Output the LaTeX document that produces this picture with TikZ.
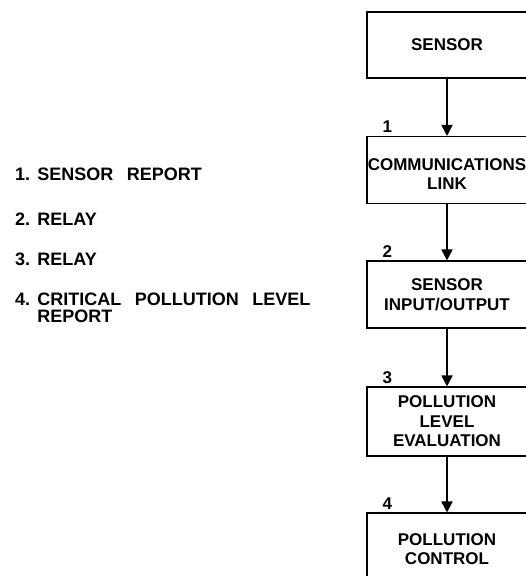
\documentclass[tikz,border=0pt]{standalone}
\usepackage{fontspec}
\setmainfont{Liberation Sans}
\usetikzlibrary{arrows.meta}

\begin{document}
\begin{tikzpicture}[
    x=1pt, y=-1pt,
    blk/.style={draw, line width=1.1pt, minimum width=160pt, align=center,
                inner sep=0pt, font=\fontsize{17}{19.5}\selectfont\bfseries},
    num/.style={anchor=south west, inner sep=0pt,
                font=\fontsize{17}{17}\selectfont\bfseries},
    lst/.style={anchor=west, align=left, inner sep=0pt,
                font={\fontsize{18}{17}\selectfont\bfseries
                      \spaceskip=0.75em\xspaceskip=0.4em}},
    ar/.style={line width=1.8pt, -{Triangle[width=11pt,length=11pt]}}
  ]
    \clip (0,0) rectangle (526,576);
    % chain of boxes
    \node[blk, minimum height=66pt] (sen) at (447,45) {SENSOR};
    \node[blk, minimum height=67pt] (com) at (447,170) {\rule{0pt}{20pt}COMMUNICATIONS\\LINK};
    \node[blk, minimum height=67pt] (sio) at (447,294.5) {SENSOR\\INPUT/OUTPUT};
    \node[blk, minimum height=69pt] (ple) at (447,421.5) {POLLUTION\\LEVEL\\EVALUATION};
    \node[blk, minimum height=72pt] (pc)  at (447,549) {POLLUTION\\CONTROL};
    \draw[ar] (sen) -- (com); \draw[ar] (com) -- (sio);
    \draw[ar] (sio) -- (ple); \draw[ar] (ple) -- (pc);
    % numbers on the links
    \node[num] (n1) at ([xshift=16pt, yshift=3pt]com.north west) {1};
    \node[num] (n2) at ([xshift=16pt, yshift=3pt]sio.north west) {2};
    \node[num] (n3) at ([xshift=16pt, yshift=3pt]ple.north west) {3};
    \node[num] (n4) at ([xshift=16pt, yshift=3pt]pc.north west) {4};
    % key
    \node[lst] (k1) at (15,174.5) {1. SENSOR REPORT};
    \node[lst] (k2) at (15,219) {2. RELAY};
    \node[lst] (k3) at (15,259) {3. RELAY};
    \node[lst] (k4) at (15,307.5) {4. CRITICAL POLLUTION LEVEL\\\phantom{4.}\hspace{0.4em}REPORT};
\end{tikzpicture}
\end{document}
